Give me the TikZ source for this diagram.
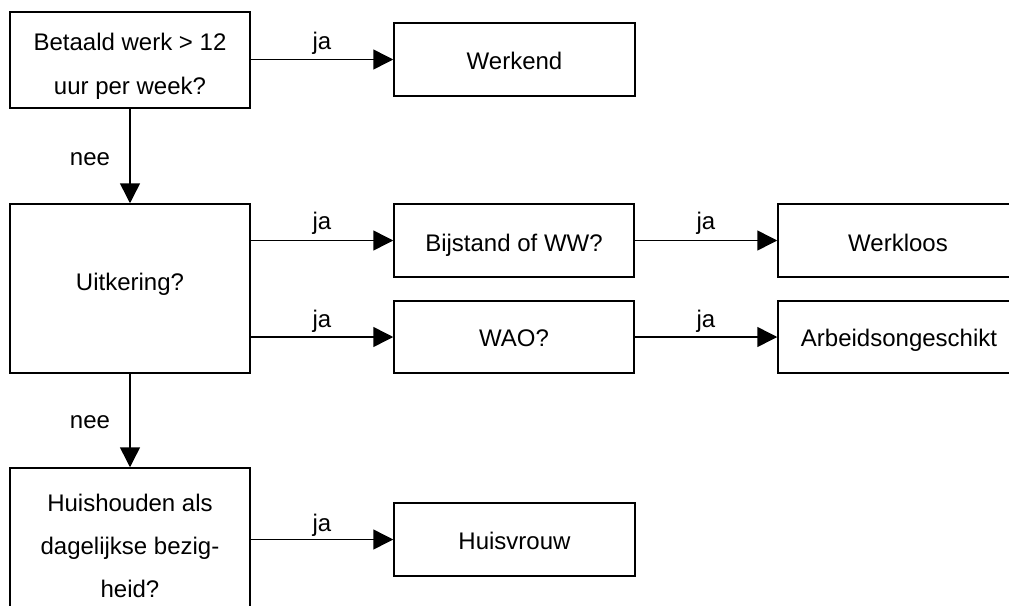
\documentclass[tikz,border=0pt]{standalone}
\usepackage{fontspec}
\setmainfont{Liberation Sans}
\usetikzlibrary{arrows.meta}
\begin{document}
\begin{tikzpicture}[x=1pt,y=-1pt,
  box/.style={draw,line width=1.5pt,rectangle,inner sep=0pt},
  txt/.style={anchor=base,inner sep=0pt,font=\fontsize{24}{28}\selectfont},
  conn/.style={line width=1.5pt,-{Triangle[length=20pt,width=20pt]}}]
\clip (0,0) rectangle (1009,605);
\fill[white] (0,0) rectangle (1009,605);
% boxes
\node[box,minimum width=240pt,minimum height=96pt] (b1) at (130,60) {};
\node[box,minimum width=241pt,minimum height=73pt] (werkend) at (514.5,59.5) {};
\node[box,minimum width=240pt,minimum height=169pt] (uitk) at (130,288.5) {};
\node[box,minimum width=240pt,minimum height=73pt] (bijstand) at (514,240.5) {};
\node[box,minimum width=240pt,minimum height=72pt] (wao) at (514,337) {};
\node[box,minimum width=260pt,minimum height=73pt] (werkloos) at (908,240.5) {};
\node[box,minimum width=260pt,minimum height=72pt] (arbeid) at (908,337) {};
\node[box,minimum width=240pt,minimum height=160pt] (huish) at (130,548) {};
\node[box,minimum width=241pt,minimum height=73pt] (huisvrouw) at (514.5,539.5) {};
% texts
\node[txt] (t1a) at (130,50.5) {Betaald werk > 12};
\node[txt] (t1b) at (130,94) {uur per week?};
\node[txt] (tw) at (514.5,69) {Werkend};
\node[txt] (tu) at (130,290) {Uitkering?};
\node[txt] (tb) at (514,251) {Bijstand of WW?};
\node[txt] (two) at (514,346) {WAO?};
\node[txt] (twl) at (898,251) {Werkloos};
\node[txt] (tar) at (899,346) {Arbeidsongeschikt};
\node[txt] (th1) at (130,511) {Huishouden als};
\node[txt] (th2) at (130,554.5) {dagelijkse bezig-};
\node[txt] (th3) at (130,597.5) {heid?};
\node[txt] (thv) at (514.5,549) {Huisvrouw};
% connectors
\draw[conn] (b1.east |- werkend.west) -- (werkend.west);
\draw[conn] (b1.south) -- (uitk.north);
\draw[conn] (uitk.east |- bijstand.west) -- (bijstand.west);
\draw[conn] (uitk.east |- wao.west) -- (wao.west);
\draw[conn] (bijstand.east) -- (werkloos.west);
\draw[conn] (wao.east) -- (arbeid.west);
\draw[conn] (uitk.south) -- (huish.north);
\draw[conn] (huish.east |- huisvrouw.west) -- (huisvrouw.west);
% labels
\node[txt] (l1) at (322,49) {ja};
\node[txt] (l2) at (90,165) {nee};
\node[txt] (l3) at (322,229) {ja};
\node[txt] (l4) at (322,327) {ja};
\node[txt] (l5) at (706,229) {ja};
\node[txt] (l6) at (706,327) {ja};
\node[txt] (l7) at (90,428) {nee};
\node[txt] (l8) at (322,531) {ja};
\end{tikzpicture}
\end{document}
